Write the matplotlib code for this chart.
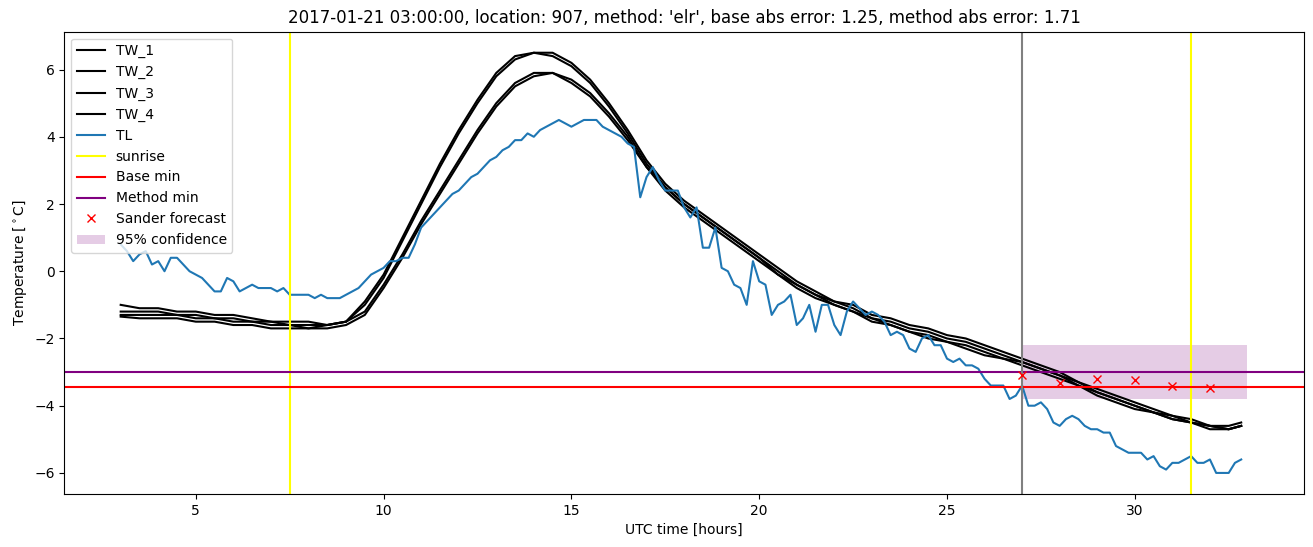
import numpy as np
import matplotlib
matplotlib.use('Agg')
import matplotlib.pyplot as plt

# TL observations, 10 minute steps from 03:00 (one row per hour)
tl_hours = 3 + np.arange(180) / 6.0
tl = [0.8, 0.6, 0.3, 0.5, 0.6, 0.2,
      0.3, 0.0, 0.4, 0.4, 0.2, 0.0,
      -0.1, -0.2, -0.4, -0.6, -0.6, -0.2,
      -0.3, -0.6, -0.5, -0.4, -0.5, -0.5,
      -0.5, -0.6, -0.5, -0.7, -0.7, -0.7,
      -0.7, -0.8, -0.7, -0.8, -0.8, -0.8,
      -0.7, -0.6, -0.5, -0.3, -0.1, 0.0,
      0.1, 0.3, 0.3, 0.4, 0.4, 0.8,
      1.3, 1.5, 1.7, 1.9, 2.1, 2.3,
      2.4, 2.6, 2.8, 2.9, 3.1, 3.3,
      3.4, 3.6, 3.7, 3.9, 3.9, 4.1,
      4.0, 4.2, 4.3, 4.4, 4.5, 4.4,
      4.3, 4.4, 4.5, 4.5, 4.5, 4.3,
      4.2, 4.1, 4.0, 3.8, 3.7, 2.2,
      2.8, 3.1, 2.7, 2.4, 2.4, 2.4,
      1.9, 1.6, 1.9, 0.7, 0.7, 1.3,
      0.1, 0.0, -0.4, -0.5, -1.0, 0.3,
      -0.3, -0.4, -1.3, -1.0, -0.9, -0.7,
      -1.6, -1.4, -1.0, -1.8, -1.0, -1.0,
      -1.6, -1.9, -1.2, -0.9, -1.1, -1.3,
      -1.2, -1.3, -1.5, -1.9, -1.8, -1.9,
      -2.3, -2.4, -2.0, -1.9, -2.2, -2.2,
      -2.6, -2.7, -2.6, -2.8, -2.8, -2.9,
      -3.2, -3.4, -3.4, -3.4, -3.8, -3.7,
      -3.4, -4.0, -4.0, -3.9, -4.1, -4.5,
      -4.6, -4.4, -4.3, -4.4, -4.6, -4.7,
      -4.7, -4.8, -4.8, -5.2, -5.3, -5.4,
      -5.4, -5.4, -5.6, -5.5, -5.8, -5.9,
      -5.7, -5.7, -5.6, -5.5, -5.7, -5.7,
      -5.6, -6.0, -6.0, -6.0, -5.7, -5.6]

# TW sensors, 30 minute steps from 03:00 plus the last reading
tw_hours = np.append(np.arange(3.0, 33.0, 0.5), 32 + 5 / 6)
tw_1 = [-1.0, -1.1, -1.1, -1.2, -1.2, -1.3, -1.3, -1.4, -1.5, -1.5, -1.5, -1.6,
        -1.5, -0.9, -0.1, 1.0, 2.1, 3.2, 4.2, 5.1, 5.9, 6.4, 6.5, 6.5,
        6.2, 5.7, 5.0, 4.2, 3.3, 2.6, 2.1, 1.7, 1.3, 0.9, 0.5, 0.1,
        -0.3, -0.6, -0.9, -1.0, -1.3, -1.4, -1.6, -1.7, -1.9, -2.0, -2.2, -2.4,
        -2.6, -2.8, -3.0, -3.3, -3.5, -3.7, -3.9, -4.1, -4.3, -4.4, -4.6, -4.6,
        -4.5]
tw_2 = [-1.2, -1.2, -1.2, -1.3, -1.3, -1.4, -1.4, -1.5, -1.5, -1.6, -1.6, -1.6,
        -1.5, -1.0, -0.2, 0.9, 2.0, 3.1, 4.1, 5.0, 5.8, 6.3, 6.5, 6.4,
        6.1, 5.6, 4.9, 4.1, 3.2, 2.5, 2.0, 1.6, 1.2, 0.8, 0.4, 0.0,
        -0.4, -0.7, -0.9, -1.1, -1.4, -1.5, -1.7, -1.8, -2.0, -2.1, -2.3, -2.5,
        -2.7, -2.9, -3.1, -3.3, -3.6, -3.8, -4.0, -4.2, -4.3, -4.5, -4.6, -4.7,
        -4.6]
tw_3 = [-1.3, -1.3, -1.3, -1.3, -1.4, -1.4, -1.5, -1.5, -1.6, -1.6, -1.7, -1.6,
        -1.5, -1.2, -0.4, 0.5, 1.5, 2.4, 3.3, 4.2, 5.0, 5.6, 5.9, 5.9,
        5.7, 5.3, 4.7, 4.0, 3.1, 2.5, 2.0, 1.6, 1.2, 0.8, 0.4, -0.1,
        -0.4, -0.7, -1.0, -1.2, -1.4, -1.6, -1.8, -1.9, -2.1, -2.2, -2.4, -2.6,
        -2.7, -2.9, -3.1, -3.4, -3.6, -3.8, -4.0, -4.2, -4.4, -4.5, -4.6, -4.7,
        -4.6]
tw_4 = [-1.35, -1.4, -1.4, -1.4, -1.5, -1.5, -1.6, -1.6, -1.7, -1.7, -1.7, -1.7,
        -1.6, -1.3, -0.5, 0.4, 1.4, 2.3, 3.2, 4.1, 4.9, 5.5, 5.8, 5.9,
        5.6, 5.2, 4.6, 3.9, 3.1, 2.4, 1.9, 1.5, 1.1, 0.7, 0.3, -0.1,
        -0.5, -0.8, -1.0, -1.2, -1.5, -1.6, -1.8, -2.0, -2.1, -2.3, -2.5, -2.6,
        -2.8, -3.0, -3.2, -3.4, -3.7, -3.9, -4.1, -4.2, -4.4, -4.5, -4.7, -4.7,
        -4.6]

sunrise = [7.5, 31.5]
base_min = -3.45
method_min = -3.0
forecast_start = 27.0
forecast_hours = [27, 28, 29, 30, 31, 32]
sander = [-3.10, -3.33, -3.20, -3.25, -3.41, -3.46]
conf_hours = [27, 33]
conf_low = -3.8
conf_high = -2.2

title = ("2017-01-21 03:00:00, location: 907, method: 'elr', "
         "base abs error: 1.25, method abs error: 1.71")

if __name__ == '__main__':
    fig = plt.figure(figsize=(13.13, 5.47), dpi=100)
    ax = fig.add_axes([0.049, 0.097, 0.944, 0.845])

    for name, vals in zip(['TW_1', 'TW_2', 'TW_3', 'TW_4'], [tw_1, tw_2, tw_3, tw_4]):
        ax.plot(tw_hours, vals, color='k', label=name)
    ax.plot(tl_hours, tl, color='tab:blue', label='TL')

    for i, s in enumerate(sunrise):
        ax.axvline(s, color='yellow', label='sunrise' if i == 0 else None)
    ax.axhline(base_min, color='red', label='Base min')
    ax.axhline(method_min, color='purple', label='Method min')
    ax.axvline(forecast_start, color='gray')
    ax.plot(forecast_hours, sander, 'rx', label='Sander forecast')
    ax.fill_between(conf_hours, conf_low, conf_high, color='purple', alpha=0.2,
                    linewidth=0, label='95% confidence')

    ax.set_title(title)
    ax.set_xlabel('UTC time [hours]')
    ax.set_ylabel(r'Temperature [$^\circ$C]')
    ax.legend(loc='upper left')

    plt.savefig('out.png')
